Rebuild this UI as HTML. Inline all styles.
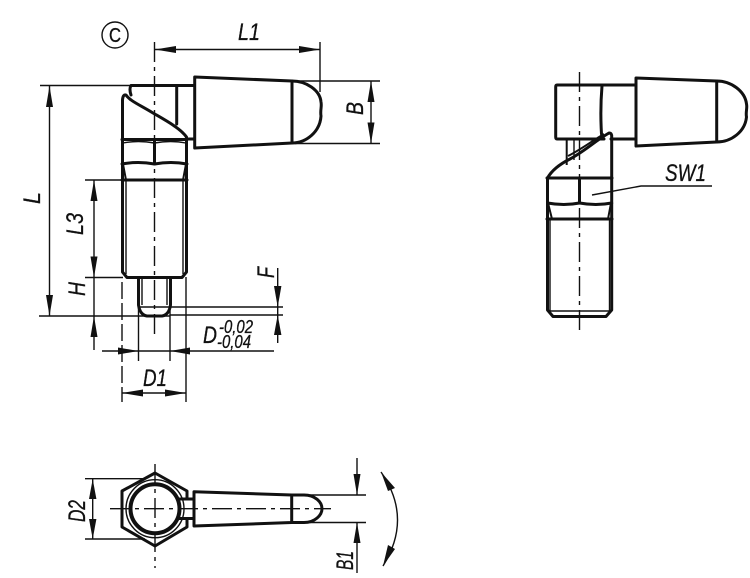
<!DOCTYPE html>
<html>
<head>
<meta charset="utf-8">
<style>
html,body{margin:0;padding:0;background:#fff}
svg{display:block}
text{font-family:"Liberation Sans",sans-serif;font-style:italic;fill:#111;stroke:#111;stroke-width:.3}
.k{stroke:#111;stroke-width:3;fill:none;stroke-linejoin:round;stroke-linecap:round}
.m{stroke:#111;stroke-width:2;fill:none}
.t{stroke:#111;stroke-width:1.4;fill:none}
.c{stroke:#111;stroke-width:1.4;fill:none;stroke-dasharray:20 5 4 5}
.a{fill:#111;stroke:none}
</style>
</head>
<body>
<svg width="750" height="578" viewBox="0 0 750 578" xmlns="http://www.w3.org/2000/svg">
<rect width="750" height="578" fill="#fff"/>

<!-- LEFT VIEW -->
<circle cx="115" cy="35" r="13" class="t"/>
<text x="115" y="42" font-size="20" text-anchor="middle" style="font-style:normal" textLength="12" lengthAdjust="spacingAndGlyphs">C</text>
<line x1="154.500" y1="42" x2="154.500" y2="334" class="c"/>

<!-- handle -->
<path d="M194.700 77 L292 81 L292 143 L194.700 148 Z" class="k"/>
<path d="M292 81 C306 81 320 90 321 102 C322 107 320 110 321 116 C320 132 306 143 292 143" class="k"/>
<!-- head and body -->
<path d="M194 85.500 H131 C129.500 88 130 92 131 95" class="k"/>
<line x1="176.700" y1="86" x2="176.700" y2="124" class="k"/>
<path d="M122.500 180 V100 Q123 94 126 95 C130 101 140 105 153 113 C165 120 180 128 186.500 137 V180" class="k"/>
<line x1="186" y1="139" x2="194" y2="139" class="k"/>
<!-- hex -->
<line x1="122" y1="139.500" x2="187" y2="139.500" class="k"/>
<path d="M122 164 Q138 161 154.500 164 Q171 161 187 164" class="k"/>
<path d="M123 143 Q138 140 154.500 143 Q171 140 186 143" class="t"/>
<line x1="154.500" y1="140" x2="154.500" y2="164" class="k"/>
<line x1="122" y1="180" x2="187" y2="180" class="k"/>
<path d="M123 164 L126 180 M186 164 L183 180" class="m"/>
<!-- thread -->
<path d="M122.500 180 V272 L127 277.500 H182 L186.500 272 V180" class="k"/>
<path d="M126 180 V274 M183 180 V274" class="t"/>
<!-- pin -->
<path d="M138.500 278 V305 Q140 315 147 316 H162 Q169 315 170.500 305 V278" class="k"/>
<path d="M139 307 H170" class="t"/>
<path d="M142 278 V305 M167 278 V305" class="t"/>

<!-- L1 -->
<line x1="154.500" y1="49.500" x2="320" y2="49.500" class="t"/>
<line x1="320" y1="42" x2="320" y2="92" class="t"/>
<polygon class="a" points="155,49.500 176,46 176,53"/>
<polygon class="a" points="320,49.500 299,46 299,53"/>
<text x="238" y="40" font-size="24" textLength="22" lengthAdjust="spacingAndGlyphs">L1</text>

<!-- B -->
<line x1="292" y1="81" x2="380" y2="81" class="t"/>
<line x1="295" y1="143.500" x2="380" y2="143.500" class="t"/>
<line x1="371" y1="81" x2="371" y2="143.500" class="t"/>
<polygon class="a" points="371,81 367.500,102 374.500,102"/>
<polygon class="a" points="371,143.500 367.500,122.500 374.500,122.500"/>
<text transform="translate(363 115) rotate(-90)" font-size="24" textLength="13" lengthAdjust="spacingAndGlyphs">B</text>

<!-- L -->
<line x1="40" y1="85.500" x2="131" y2="85.500" class="t"/>
<line x1="39" y1="316" x2="170" y2="316" class="t"/>
<line x1="170" y1="315" x2="283" y2="315" class="t"/>
<line x1="49.500" y1="85.500" x2="49.500" y2="316" class="t"/>
<polygon class="a" points="49.500,86 46,107 53,107"/>
<polygon class="a" points="49.500,316 46,295 53,295"/>
<text transform="translate(40 204) rotate(-90)" font-size="24" textLength="12" lengthAdjust="spacingAndGlyphs">L</text>

<!-- L3 -->
<line x1="85" y1="180" x2="123" y2="180" class="t"/>
<line x1="85" y1="277.500" x2="123" y2="277.500" class="t"/>
<line x1="94" y1="180" x2="94" y2="350" class="t"/>
<polygon class="a" points="94,180 90.500,201 97.500,201"/>
<polygon class="a" points="94,277.500 90.500,256.500 97.500,256.500"/>
<polygon class="a" points="94,316 90.500,337 97.500,337"/>
<text transform="translate(83 235) rotate(-90)" font-size="24" textLength="22" lengthAdjust="spacingAndGlyphs">L3</text>
<text transform="translate(85 296) rotate(-90)" font-size="24" textLength="14" lengthAdjust="spacingAndGlyphs">H</text>

<!-- F -->
<line x1="170" y1="307" x2="283" y2="307" class="t"/>
<line x1="277.700" y1="268" x2="277.700" y2="343" class="t"/>
<polygon class="a" points="277.700,307 274,286 281.400,286"/>
<polygon class="a" points="277.700,315 274,335 281.400,335"/>
<text transform="translate(274 278) rotate(-90)" font-size="24" textLength="11" lengthAdjust="spacingAndGlyphs">F</text>

<!-- D -->
<line x1="102" y1="351" x2="274" y2="351" class="t"/>
<line x1="138.500" y1="307" x2="138.500" y2="361" class="t"/>
<line x1="170" y1="307" x2="170" y2="361" class="t"/>
<polygon class="a" points="138.500,351 118,347.500 118,354.500"/>
<polygon class="a" points="170,351 190,347.500 190,354.500"/>
<text x="203" y="343" font-size="24" textLength="14" lengthAdjust="spacingAndGlyphs">D</text>
<text x="219" y="333" font-size="18" textLength="34" lengthAdjust="spacingAndGlyphs">-0,02</text>
<text x="217" y="348" font-size="18" textLength="34" lengthAdjust="spacingAndGlyphs">-0,04</text>

<!-- D1 -->
<line x1="122" y1="282" x2="122" y2="402" class="t" stroke-dasharray="17 4"/>
<line x1="186" y1="277" x2="186" y2="402" class="t"/>
<line x1="122" y1="393" x2="186" y2="393" class="t"/>
<polygon class="a" points="122,393 143,389.500 143,396.500"/>
<polygon class="a" points="186,393 165,389.500 165,396.500"/>
<text x="143" y="386" font-size="24" textLength="24" lengthAdjust="spacingAndGlyphs">D1</text>

<!-- RIGHT VIEW -->
<line x1="579.500" y1="72" x2="579.500" y2="330" class="c"/>
<path d="M636 78 L716.700 81 L716.700 142 L636 146 Z" class="k"/>
<path d="M716.700 81 C731 81 745 91 746.500 104 C747.500 108 745.500 112 746.500 117 C745 132 731 142 716.700 142" class="k"/>
<path d="M636 85 H557 Q555.700 85 555.700 87 V137 Q555.700 139 557 139 H604" class="k"/>
<line x1="611" y1="139" x2="636" y2="139" class="k"/>
<path d="M602 86 Q600 110 601.500 134" class="k"/>
<line x1="566.700" y1="139" x2="566.700" y2="165" class="m"/>
<line x1="574" y1="139" x2="574" y2="160" class="t"/>
<path d="M547.500 178 C552 170 560 164 570 159 C585 151 595 141 609 133 Q612 133 611.700 137 V178" class="k"/>
<path d="M568 156 C580 150 592 141 604 134" class="m"/>
<line x1="547" y1="178" x2="612" y2="178" class="k"/>
<path d="M547.500 178 V310 L553 316.500 H606 L611.700 310 V178" class="k"/>
<path d="M547.500 203 Q564 206 579.500 203 Q596 206 611.700 203" class="k"/>
<line x1="579.500" y1="178" x2="579.500" y2="203" class="k"/>
<line x1="547" y1="219" x2="612" y2="219" class="k"/>
<path d="M548 203 L552 219 M611 203 L608 219" class="m"/>
<path d="M550 219 V311 M609.500 219 V311 M548 311 H611" class="t"/>
<path d="M592 195 L641 186 H712" class="t"/>
<text x="665" y="181" font-size="24" textLength="41" lengthAdjust="spacingAndGlyphs">SW1</text>

<!-- BOTTOM VIEW -->
<line x1="155" y1="464" x2="155" y2="568" class="c"/>
<path d="M187 498 V491 L155 473 L122 491 V527 L155 546 L187 527 V520" class="k"/>
<circle cx="155" cy="508.700" r="24.500" class="k" style="stroke-width:4"/>
<circle cx="155" cy="508.700" r="29" class="t"/>
<path d="M178 499 H194 M178 518.500 H194" class="k"/>
<path d="M194 491.700 L291.700 495 L291.700 522.500 L194 526 Z" class="k"/>
<path d="M291.700 495 H304 C315 495 322 502 322 508.700 C322 515 315 522.500 304 522.500 H291.700" class="k"/>
<line x1="110" y1="508.700" x2="331" y2="508.700" class="c"/>

<line x1="85" y1="478.700" x2="145" y2="478.700" class="t"/>
<line x1="85" y1="539" x2="145" y2="539" class="t"/>
<line x1="92.700" y1="479" x2="92.700" y2="539" class="t"/>
<polygon class="a" points="92.700,479 89,499 96.400,499"/>
<polygon class="a" points="92.700,539 89,519 96.400,519"/>
<text transform="translate(85 522) rotate(-90)" font-size="24" textLength="22" lengthAdjust="spacingAndGlyphs">D2</text>

<line x1="295" y1="495" x2="366" y2="495" class="t"/>
<line x1="295" y1="522.500" x2="366" y2="522.500" class="t"/>
<line x1="357" y1="458" x2="357" y2="495" class="t"/>
<line x1="357" y1="522.500" x2="357" y2="573" class="t"/>
<polygon class="a" points="357,495 353.500,474 360.500,474"/>
<polygon class="a" points="357,522.500 353.500,543 360.500,543"/>
<text transform="translate(353 570) rotate(-90)" font-size="24" textLength="19" lengthAdjust="spacingAndGlyphs">B1</text>

<path d="M381 472 Q413 518 383 566" class="t"/>
<polygon class="a" points="381,472 395,488 388,491"/>
<polygon class="a" points="383,566 388,545 395,549"/>
</svg>
</body>
</html>
